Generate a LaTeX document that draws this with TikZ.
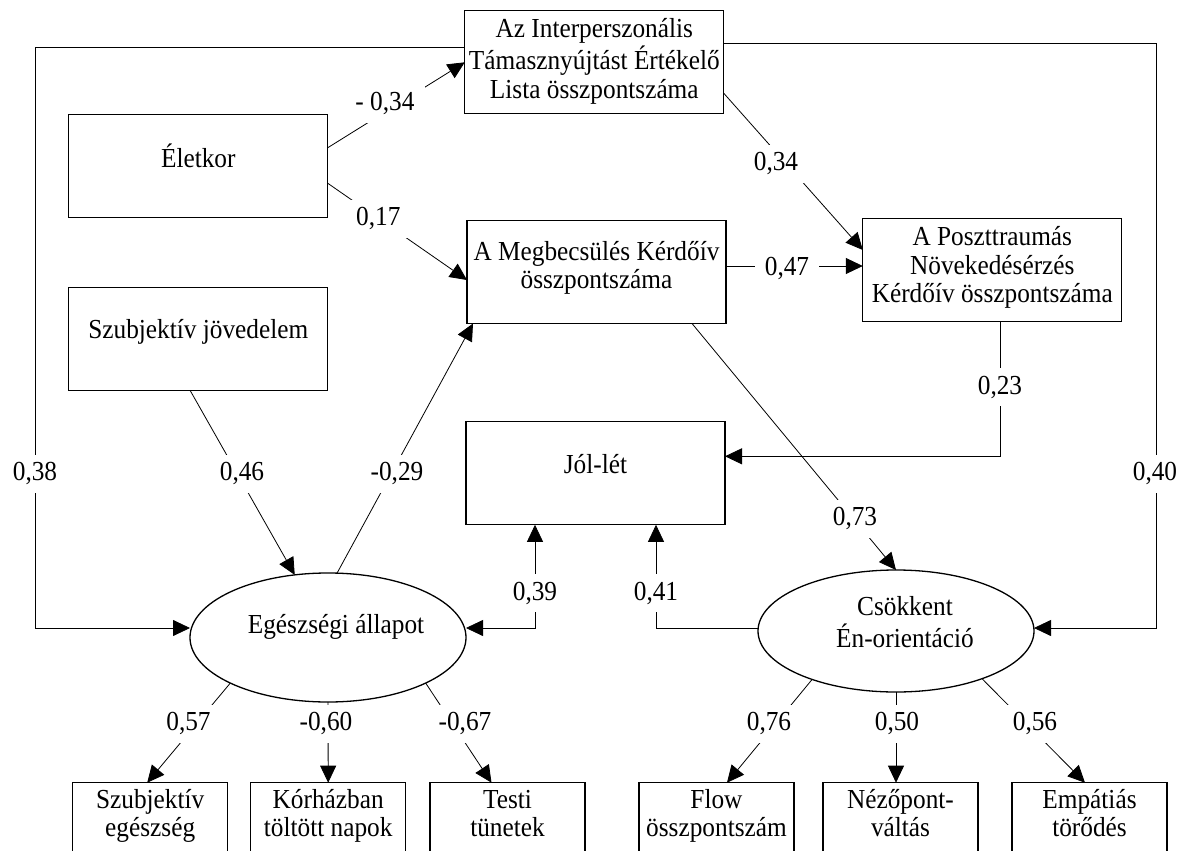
\documentclass[tikz,border=0pt]{standalone}
\usepackage{fontspec}
\setmainfont{Liberation Serif}[FakeStretch=0.92]
\usetikzlibrary{arrows.meta,shapes.geometric,calc}
\newcommand{\boxtext}[3]{\raisebox{#2pt}[\height][\depth]{\makebox[0pt][c]{\hspace*{#1pt}\begin{tabular}{@{}c@{}}#3\end{tabular}}}}
\tikzset{
  txtfont/.style={font=\fontsize{27.5}{28.5}\selectfont},
  mainbox/.style={draw, line width=1.3pt, minimum width=259pt, minimum height=103pt, inner sep=0pt, outer sep=0pt, txtfont},
  smallbox/.style={draw, line width=1.3pt, minimum width=155pt, minimum height=74pt, inner sep=0pt, outer sep=0pt, txtfont},
  latent/.style={ellipse, draw, line width=1.3pt, inner sep=0pt, outer sep=0pt, txtfont},
  conn/.style={line width=0.8pt, -{Triangle[length=17pt,width=16pt]}},
  dconn/.style={line width=0.8pt, {Triangle[length=17pt,width=16pt]}-{Triangle[length=17pt,width=16pt]}},
  lbl/.style={fill=white, inner xsep=10pt, inner ysep=8pt, text height=18pt, text depth=4pt, txtfont},
}
\begin{document}
\begin{tikzpicture}[x=1pt,y=-1pt]
\fill[white] (0,0) rectangle (1187,851);
\clip (0,0) rectangle (1187,851);

% main boxes
\node[mainbox] (int)  at (594.3,62.3)  {\boxtext{0}{0}{Az Interperszonális\\Támasznyújtást Értékelő\\Lista összpontszáma}};
\node[mainbox] (elet) at (198.3,166)   {\boxtext{0}{6}{Életkor}};
\node[mainbox] (szj)  at (198.3,338.7) {\boxtext{0}{5.5}{Szubjektív jövedelem}};
\node[mainbox] (megb) at (596.5,272)   {\boxtext{0}{3}{A Megbecsülés Kérdőív\\összpontszáma}};
\node[mainbox] (post) at (992.3,269.7) {\boxtext{0}{1}{A Poszttraumás\\Növekedésérzés\\Kérdőív összpontszáma}};
\node[mainbox] (jol)  at (595.5,473.3) {\boxtext{0}{6}{Jól-lét}};

% latent variables
\node[latent, minimum width=276pt, minimum height=129pt] (E) at (328,637.5) {\boxtext{16}{9.5}{Egészségi állapot}};
\node[latent, minimum width=276pt, minimum height=122pt] (C) at (896,631) {\boxtext{18}{5}{Csökkent\\Én-orientáció}};

% indicator boxes
\node[smallbox] (b1) at (150.2,819.7)  {\boxtext{0}{3}{Szubjektív\\egészség}};
\node[smallbox] (b2) at (328.2,819.7)  {\boxtext{0}{3}{Kórházban\\töltött napok}};
\node[smallbox] (b3) at (507.5,819.7)  {\boxtext{0}{3}{Testi\\tünetek}};
\node[smallbox] (b4) at (716.5,819.7)  {\boxtext{0}{3}{Flow\\összpontszám}};
\node[smallbox] (b5) at (900.5,819.7)  {\boxtext{0}{3}{Nézőpont-\\váltás}};
\node[smallbox] (b6) at (1089.5,819.7) {\boxtext{0}{3}{Empátiás\\törődés}};

% corner coordinates of the long loops
\coordinate (lc) at (35,628);
\coordinate (rc) at (1156,628);

% connectors
\draw[conn] ($(elet.east)+(0,-18.3)$) -- (int.west);
\draw[conn] ($(elet.east)+(0,17.3)$) -- ($(megb.west)+(0,8)$);
\draw[conn] ($(int.east)+(0,31)$) -- ($(post.west)+(0,-19.7)$);
\draw[conn] ($(megb.east)+(0,-6)$) -- ($(post.west)+(0,-3.7)$);
\draw[conn] ($(post.south)+(7.7,0)$) |- ($(jol.east)+(0,-17)$);
\draw[conn] ($(megb.south)+(95.5,0)$) -- (C.north);
\draw[conn] ($(szj.south)+(-8.3,0)$) -- (E.118);
\draw[conn] (E.82) -- ($(megb.south west)+(6,0)$);
\draw[conn] ($(int.west)+(0,-14.6)$) -| (lc) -- (lc -| E.west);
\draw[conn] ($(int.east)+(0,-19)$) -| (rc) -- (rc -| C.east);
\draw[dconn] (lc -| E.east) -| ($(jol.south)+(-60.5,0)$);
\draw[conn] (lc -| C.west) -| ($(jol.south)+(60.5,0)$);
\draw[conn] (E.205) -- ($(b1.north)+(-3,0)$);
\draw[conn] (E.south) -- (b2.north);
\draw[conn] (E.335) -- ($(b3.north)+(-16,0)$);
\draw[conn] (C.210) -- ($(b4.north)+(10.5,0)$);
\draw[conn] (C.south) -- (C.south |- b5.north);
\draw[conn] (C.331) -- ($(b6.north)+(-4.5,0)$);

% coefficient labels
\node[lbl] (l1)  at (385,103.7)   {- 0,34};
\node[lbl] (l2)  at (378.3,218.7) {0,17};
\node[lbl] (l3)  at (776,163.7)   {0,34};
\node[lbl] (l4)  at (787,268)     {0,47};
\node[lbl] (l5)  at (1000,387)    {0,23};
\node[lbl] (l6)  at (855,518.7)   {0,73};
\node[lbl] (l7)  at (242,473.7)   {0,46};
\node[lbl] (l8)  at (397,473.7)   {-0,29};
\node[lbl] (l9)  at (35,473.7)    {0,38};
\node[lbl] (l10) at (1155,473.7)  {0,40};
\node[lbl] (l11) at (535,593)     {0,39};
\node[lbl] (l12) at (656,593)     {0,41};
\node[lbl] (l13) at (188.5,723.7) {0,57};
\node[lbl] (l14) at (326,723.7)   {-0,60};
\node[lbl] (l15) at (465,723.7)   {-0,67};
\node[lbl] (l16) at (769,723.7)   {0,76};
\node[lbl] (l17) at (897,723.7)   {0,50};
\node[lbl] (l18) at (1035,723.7)  {0,56};
\end{tikzpicture}
\end{document}
